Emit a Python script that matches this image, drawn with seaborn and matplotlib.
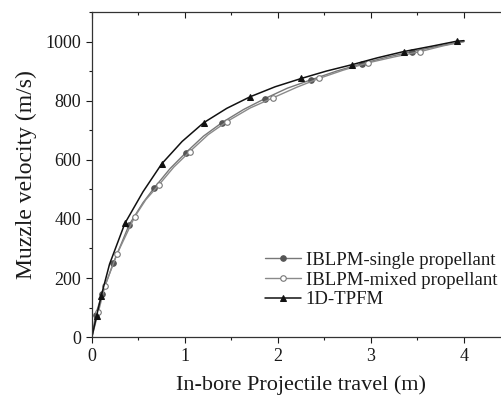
import numpy as np
import matplotlib
matplotlib.use("Agg")
import matplotlib.pyplot as plt
import matplotlib.lines as mlines
import seaborn as sns

# values (curve readings; markers at the mark_* indices)
x_single = [0.0, 0.04, 0.11, 0.23, 0.40, 0.55, 0.67, 0.84, 1.01, 1.20, 1.40, 1.63, 1.86,
            2.10, 2.36, 2.63, 2.90, 3.17, 3.44, 3.72, 4.0]
v_single = [0, 75, 146, 250, 380, 455, 505, 570, 624, 680, 726, 770, 807,
            842, 871, 900, 925, 947, 966, 984, 1000]
mark_single = [1, 2, 3, 4, 6, 8, 10, 12, 14, 16, 18]

x_mixed = [0.0, 0.07, 0.14, 0.27, 0.46, 0.58, 0.72, 0.88, 1.05, 1.25, 1.45, 1.70, 1.95,
           2.20, 2.44, 2.70, 2.97, 3.25, 3.53, 3.77, 4.0]
v_mixed = [0, 85, 173, 281, 407, 465, 515, 575, 627, 685, 729, 775, 810,
           845, 875, 903, 928, 948, 966, 985, 1000]
mark_mixed = [1, 2, 3, 4, 6, 8, 10, 12, 14, 16, 18]

x_tpfm = [0.0, 0.05, 0.10, 0.19, 0.355, 0.55, 0.75, 0.97, 1.20, 1.45, 1.70, 1.97, 2.25,
          2.52, 2.80, 3.07, 3.35, 3.65, 3.92, 4.0]
v_tpfm = [0, 71, 139, 247, 385, 492, 586, 662, 725, 774, 813, 847, 875,
          900, 922, 945, 966, 984, 1001, 1003]
mark_tpfm = [1, 2, 4, 6, 8, 10, 12, 14, 16, 18]

labels = ["IBLPM-single propellant", "IBLPM-mixed propellant", "1D-TPFM"]

sns.set_style("ticks")
plt.rcParams["font.family"] = ["Liberation Serif", "DejaVu Serif"]

fig = plt.figure(figsize=(5.02, 3.99), dpi=100)
ax = fig.add_axes([0.183, 0.155, 0.834, 0.815])

sns.lineplot(x=x_single, y=v_single, ax=ax, color="#777777", lw=1.0, sort=False,
             marker="o", ms=4, mfc="#555555", mec="#555555", markevery=mark_single,
             label=labels[0])
sns.lineplot(x=x_mixed, y=v_mixed, ax=ax, color="#8a8a8a", lw=1.0, sort=False,
             marker="o", ms=4, mfc="white", mec="#777777", mew=0.8, markevery=mark_mixed,
             label=labels[1])
sns.lineplot(x=x_tpfm, y=v_tpfm, ax=ax, color="#111111", lw=1.1, sort=False,
             marker="^", ms=5, mfc="#111111", mec="#111111", markevery=mark_tpfm,
             label=labels[2])

ax.set_xlim(0, 4.5)
ax.set_ylim(0, 1100)
ax.set_xticks([0, 1, 2, 3, 4])
ax.set_xticks(np.arange(0, 4.6, 0.5), minor=True)
ax.set_yticks([0, 200, 400, 600, 800, 1000])
ax.set_yticks(np.arange(0, 1101, 100), minor=True)
ax.tick_params(axis="both", which="major", labelsize=13, length=4, width=0.8,
               colors="#1a1a1a", direction="out")
ax.tick_params(axis="both", which="minor", length=2.5, width=0.8, colors="#1a1a1a",
               direction="out")
ax.tick_params(axis="x", which="both", top=True)
for s in ax.spines.values():
    s.set_color("#333333")
    s.set_linewidth(0.9)

ax.set_xlabel("In-bore Projectile travel (m)", fontsize=16, color="#1a1a1a", labelpad=8)
ax.set_ylabel("Muzzle velocity (m/s)", fontsize=17, color="#1a1a1a", labelpad=6)

leg = ax.legend(loc="upper left", bbox_to_anchor=(258 / 502, 1 - 244 / 399),
                bbox_transform=fig.transFigure, frameon=False, borderaxespad=0,
                fontsize=13.5, handlelength=1.9, handletextpad=0.25, labelspacing=0.15)
for t in leg.get_texts():
    t.set_color("#1a1a1a")

# top ticks point into the plot, bottom ones stay outside
fig.canvas.draw()
for t in ax.xaxis.get_major_ticks() + ax.xaxis.get_minor_ticks():
    t.tick2line.set_visible(True)
    t.tick2line.set_marker(mlines.TICKDOWN)

fig.savefig("out.png", dpi=100)
